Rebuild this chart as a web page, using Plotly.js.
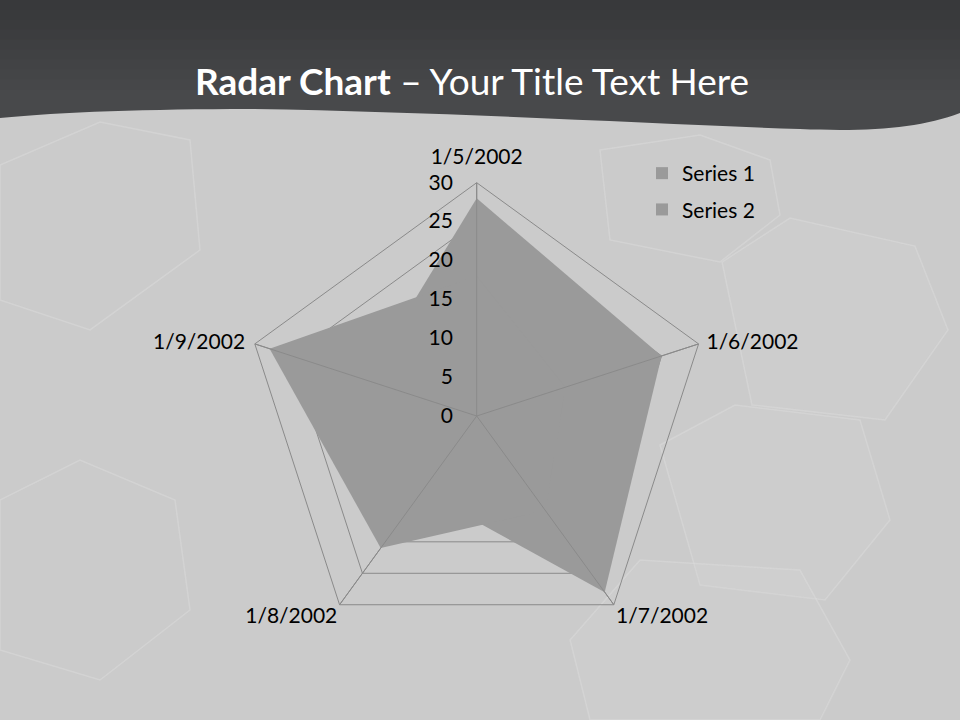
<!DOCTYPE html>
<html>
<head>
<meta charset="utf-8">
<script src="https://cdn.plot.ly/plotly-3.0.1.min.js"></script>
<style>html,body{margin:0;padding:0;background:#cbcbcb;}#chart{width:960px;height:720px;}</style>
</head>
<body>
<div id="chart"></div>
<script>
var categories = ['1/5/2002', '1/6/2002', '1/7/2002', '1/8/2002', '1/9/2002'];
var series1 = [28, 25, 28, 12, 15];
var series2 = [18, 12, 15, 21, 28];
var seriesNames = ['Series 1', 'Series 2'];
var radialTicks = [0, 5, 10, 15, 20, 25, 30];
var radialMax = 30;

var FONT = 'Lato, "Open Sans", sans-serif';
var fillColor = '#9a9a9a';
var gridColor = '#8a8a8a';

function areaTrace(values, name) {
  return {
    type: 'scatterpolar', r: values, theta: categories, name: name,
    mode: 'lines', fill: 'toself', fillcolor: fillColor,
    line: {color: fillColor, width: 0}, showlegend: false, hoverinfo: 'skip'
  };
}
function legendTrace(name, group) {
  return {
    type: 'scatterpolar', r: [null], theta: [categories[0]], name: name, legendgroup: group,
    mode: 'markers', marker: {symbol: 'square', size: 12, color: fillColor, line: {width: 0}},
    hoverinfo: 'skip'
  };
}

var spokeR = [], spokeT = [];
categories.forEach(function (c) {
  spokeR.push(0, radialMax, null);
  spokeT.push(c, c, null);
});

var traces = [
  areaTrace(series1, seriesNames[0]),
  areaTrace(series2, seriesNames[1]),
  {
    type: 'scatterpolar', r: spokeR, theta: spokeT, mode: 'lines',
    line: {color: gridColor, width: 1}, showlegend: false, hoverinfo: 'skip', connectgaps: false
  },
  {
    type: 'scatterpolar', r: categories.map(function () { return radialMax; }), theta: categories,
    mode: 'markers+text', text: categories,
    textposition: ['top center', 'middle right', 'bottom right', 'bottom left', 'middle left'],
    marker: {size: [20, 11, 2, 2, 14], opacity: 0, color: '#000'},
    textfont: {family: FONT, size: 21, color: '#000'},
    cliponaxis: false, showlegend: false, hoverinfo: 'skip'
  },
  legendTrace(seriesNames[0], 'g1'),
  legendTrace(seriesNames[1], 'g2')
];

function P(x, y) { return (x / 960).toFixed(4) + ',' + (1 - y / 720).toFixed(4); }

var shapes = [];
var bandColors = ['#38393b', '#393a3c', '#3a3b3d', '#3c3d3f', '#3e3f41', '#404143', '#424345', '#444547', '#464749'];
bandColors.forEach(function (col, i) {
  shapes.push({type: 'rect', xref: 'paper', yref: 'paper', x0: 0, x1: 1,
    y0: 1 - (i + 1) * 10 / 720, y1: 1 - i * 10 / 720 + 0.001, fillcolor: col, line: {width: 0}, layer: 'below'});
});
shapes.push({type: 'path', xref: 'paper', yref: 'paper', layer: 'below', line: {width: 0}, fillcolor: '#48494b',
   path: 'M' + P(0, 90) + ' L' + P(960, 90) + ' L' + P(960, 113) + ' C' + P(920, 128) + ' ' + P(870, 132) + ' ' + P(800, 129) +
         ' C' + P(650, 124) + ' ' + P(450, 112) + ' ' + P(250, 109) + ' C' + P(150, 109) + ' ' + P(60, 112) + ' ' + P(0, 118) + ' Z'});
// faint background hexagons
var hexes = [
  [[722, 262], [790, 218], [915, 246], [948, 330], [885, 420], [752, 405]],
  [[660, 445], [735, 405], [860, 420], [890, 520], [825, 600], [700, 585]],
  [[570, 640], [640, 560], [800, 570], [850, 660], [820, 720], [590, 720]],
  [[0, 165], [100, 122], [190, 140], [200, 250], [90, 330], [0, 300]],
  [[0, 500], [80, 460], [175, 500], [190, 610], [100, 680], [0, 650]],
  [[600, 150], [700, 135], [770, 160], [780, 215], [720, 262], [610, 240]]
];
hexes.forEach(function (h, i) {
  shapes.push({type: 'path', xref: 'paper', yref: 'paper', layer: 'below',
    line: {color: 'rgba(222,222,222,0.45)', width: 1.5},
    fillcolor: i < 3 ? 'rgba(215,215,215,0.22)' : 'rgba(0,0,0,0)',
    path: 'M' + h.map(function (p) { return P(p[0], p[1]); }).join(' L') + ' Z'});
});

var cx = 476.7, cy = 416, R = 233.3;
var layout = {
  width: 960, height: 720,
  margin: {l: 0, r: 0, t: 0, b: 0},
  paper_bgcolor: '#cbcbcb',
  plot_bgcolor: 'rgba(0,0,0,0)',
  font: {family: FONT, color: '#000000', size: 21},
  title: {
    text: '<b>Radar Chart</b> – Your Title Text Here',
    font: {family: FONT, size: 37, color: '#ffffff'},
    x: 472 / 960, xanchor: 'center', xref: 'paper',
    y: 1 - 82 / 720, yanchor: 'middle', yref: 'container'
  },
  showlegend: true,
  legend: {
    x: 642 / 960, y: 1 - 153 / 720, xanchor: 'left', yanchor: 'top',
    bgcolor: 'rgba(0,0,0,0)', font: {family: FONT, size: 21, color: '#000'},
    traceorder: 'grouped', tracegroupgap: 6, itemwidth: 30
  },
  polar: {
    domain: {x: [(cx - R) / 960, (cx + R) / 960], y: [(720 - cy - R) / 720, (720 - cy + R) / 720]},
    bgcolor: 'rgba(0,0,0,0)',
    gridshape: 'linear',
    radialaxis: {
      range: [0, radialMax], tickvals: radialTicks, ticktext: radialTicks.map(String),
      angle: 90, side: 'counterclockwise', showline: false, showgrid: true,
      gridcolor: gridColor, gridwidth: 1, ticks: 'outside', ticklen: 16, tickcolor: 'rgba(0,0,0,0)',
      tickfont: {family: FONT, size: 21, color: '#000'}, tickangle: 90
    },
    angularaxis: {
      type: 'category', direction: 'clockwise', rotation: 90, categoryarray: categories,
      showline: true, linecolor: gridColor, linewidth: 1, showgrid: true, gridcolor: gridColor,
      ticks: '', showticklabels: false
    }
  },
  shapes: shapes
};

Plotly.newPlot('chart', traces, layout, {displayModeBar: false, staticPlot: true});
</script>
</body>
</html>
